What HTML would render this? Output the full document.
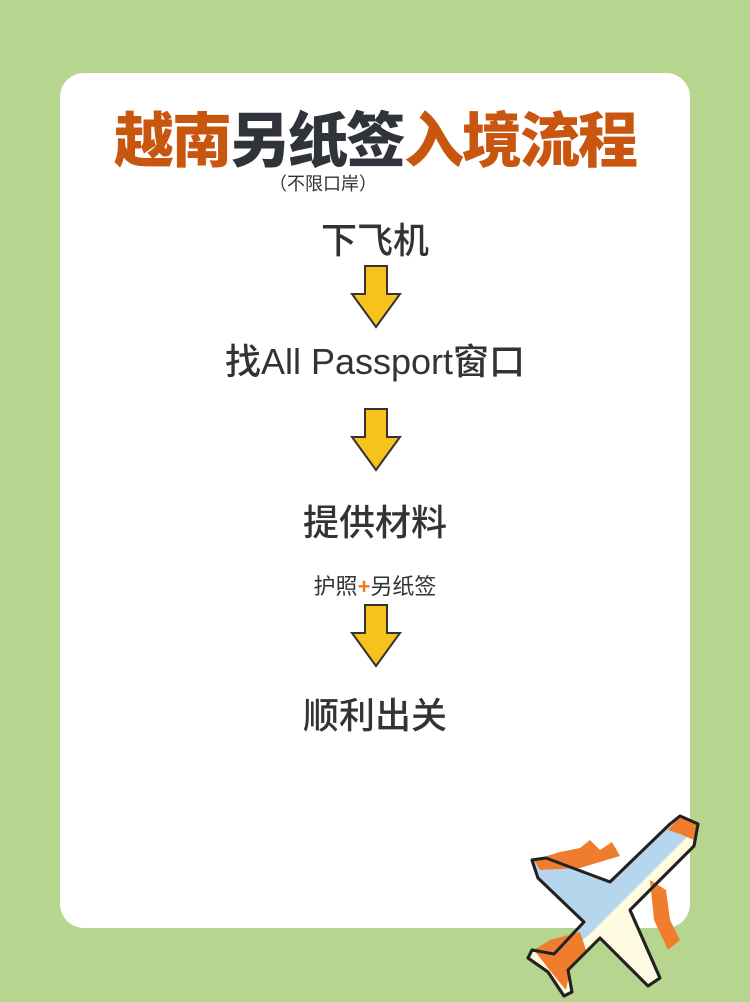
<!DOCTYPE html><html><head><meta charset="utf-8"><style>
body{margin:0;width:750px;height:1002px;background:#b6d690;position:relative;overflow:hidden;font-family:"Liberation Sans","Noto Sans CJK SC",sans-serif}
.card{position:absolute;left:60px;top:73px;width:630px;height:855px;background:#fff;border-radius:24px}
.t{position:absolute;left:0;width:750px;text-align:center;color:#333;white-space:nowrap;line-height:1.2}
.title{top:106px;font-size:60px;font-weight:900;letter-spacing:-2px;color:#c8560f}
.title b{color:#30343a}
.step{font-size:36px;font-weight:500}
svg.ar{position:absolute;left:349px}
</style></head><body>
<div class="card"></div>
<div class="t title">越南<b>另纸签</b>入境流程</div>
<div class="t" style="top:174px;left:-52px;font-size:18px">（不限口岸）</div>
<div class="t step" style="top:219px">下飞机</div>
<div class="t step" style="top:340px">找All Passport窗口</div>
<div class="t step" style="top:501px">提供材料</div>
<div class="t" style="top:574px;font-size:22px">护照<span style="color:#f07a20;font-weight:bold">+</span>另纸签</div>
<div class="t step" style="top:694px">顺利出关</div>
<svg class="ar" style="top:264px" width="54" height="66"><polygon points="16,2 38,2 38,30 51,30 27,63 3,30 16,30" fill="#f7c21b" stroke="#333" stroke-width="2"/></svg>
<svg class="ar" style="top:407px" width="54" height="66"><polygon points="16,2 38,2 38,30 51,30 27,63 3,30 16,30" fill="#f7c21b" stroke="#333" stroke-width="2"/></svg>
<svg class="ar" style="top:603px" width="54" height="66"><polygon points="16,2 38,2 38,30 51,30 27,63 3,30 16,30" fill="#f7c21b" stroke="#333" stroke-width="2"/></svg>
<svg style="position:absolute;left:520px;top:810px" width="190" height="190" viewBox="0 0 190 190">
<g stroke="#222" stroke-width="3" stroke-linejoin="round">
<polygon points="160,6 178,14 174,36 110,100 140,168 128,176 80,128 48,160 52,182 44,186 28,162 8,148 12,140 34,144 64,112 18,68 12,50 26,48 90,72 150,14" fill="#fffbe3"/>
<polygon points="160,6 178,14 170,24 70,124 50,140 30,150 12,140 34,144 64,112 18,68 12,50 26,48 90,72 150,14" fill="#b5d6ec" stroke="none"/>
<path d="M14,50 L40,42 L60,38 L70,30 L80,40 L92,32 L100,46 L60,58 L20,60Z" fill="#f07d2e" stroke="none"/>
<path d="M148,20 L160,6 L178,14 L174,30 L160,24Z" fill="#f07d2e" stroke="none"/>
<path d="M130,70 L146,80 L150,110 L160,130 L148,140 L134,110Z" fill="#f07d2e" stroke="none"/>
<path d="M14,140 L30,130 L60,122 L66,140 L50,160 L46,180 L36,168 L28,158Z" fill="#f07d2e" stroke="none"/>
<polygon points="160,6 178,14 174,36 110,100 140,168 128,176 80,128 48,160 52,182 44,186 28,162 8,148 12,140 34,144 64,112 18,68 12,50 26,48 90,72 150,14" fill="none"/>
</g></svg>
</body></html>
